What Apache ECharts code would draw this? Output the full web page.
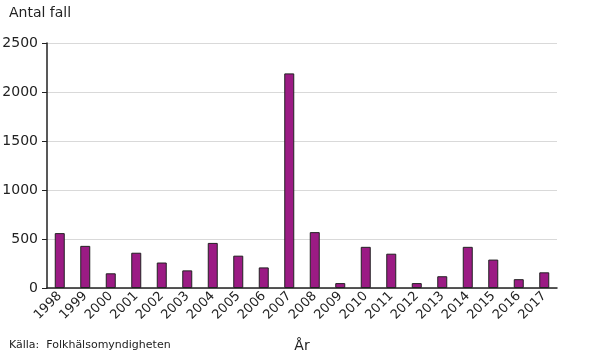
<!DOCTYPE html>
<html style="height: 100%">
<head>
<meta charset="utf-8" />
<title>Antal fall</title>
<script type="text/javascript" src="https://cdn.jsdelivr.net/npm/echarts@6/dist/echarts.min.js"></script>
</head>
<body style="height: 100%; margin: 0; background: #fff">
<div id="chart" style="width: 590px; height: 354px"></div>
<script type="text/javascript">
var years = ["1998", "1999", "2000", "2001", "2002", "2003", "2004", "2005", "2006", "2007",
             "2008", "2009", "2010", "2011", "2012", "2013", "2014", "2015", "2016", "2017"];
var cases = [560, 430, 150, 360, 260, 180, 460, 330, 210, 2190,
             570, 50, 420, 350, 50, 120, 420, 290, 90, 160];
var yTicks = [0, 500, 1000, 1500, 2000, 2500];

var font = "DejaVu Sans";
var chart = echarts.init(document.getElementById("chart"));
chart.setOption({
  animation: false,
  textStyle: { fontFamily: font },
  grid: { left: 47, right: 33, top: 43, bottom: 66, containLabel: false, outerBoundsMode: "none" },
  graphic: [
    { type: "text", left: 9, top: 6, style: { text: "Antal fall", font: "14px " + font, fill: "#222" } },
    { type: "text", left: 9, top: 340, style: { text: "Källa:  Folkhälsomyndigheten", font: "11px " + font, fill: "#222" } }
  ],
  xAxis: {
    type: "category",
    data: years,
    name: "År",
    nameLocation: "middle",
    nameGap: 51,
    nameTextStyle: { fontSize: 14, color: "#222", fontFamily: font },
    axisLine: { lineStyle: { color: "#222", width: 1.5 } },
    axisTick: { show: false },
    axisLabel: { rotate: 45, fontSize: 13, color: "#222", margin: 6, interval: 0 }
  },
  yAxis: {
    type: "value",
    min: yTicks[0],
    max: yTicks[yTicks.length - 1],
    interval: 500,
    axisLine: { show: true, lineStyle: { color: "#222", width: 1.5 } },
    axisTick: { show: true, length: 5, lineStyle: { color: "#222" } },
    axisLabel: { fontSize: 14, color: "#222", margin: 9, formatter: function (v) { return String(v); } },
    splitLine: { lineStyle: { color: "#d9d9d9" } }
  },
  series: [{
    type: "bar",
    data: cases,
    barWidth: 10,
    itemStyle: { color: "#9b1b84", borderColor: "#222", borderWidth: 1 }
  }]
});
</script>
</body>
</html>
